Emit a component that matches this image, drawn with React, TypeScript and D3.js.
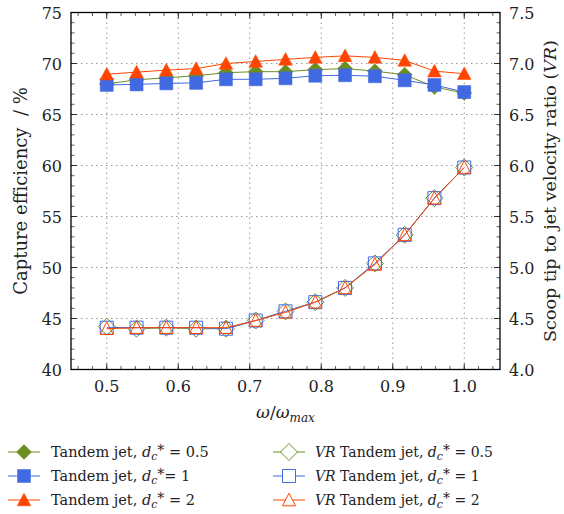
import React from "react";
import * as d3 from "d3";

const omega = [0.5, 0.5417, 0.5833, 0.625, 0.6667, 0.7083, 0.75, 0.7917, 0.8333, 0.875, 0.9167, 0.9583, 1.0];
const ceHalf = [68.0, 68.4, 68.6, 68.8, 69.1, 69.2, 69.2, 69.4, 69.5, 69.25, 68.9, 67.7, 67.1];
const ceOne = [67.9, 67.95, 68.05, 68.1, 68.45, 68.45, 68.55, 68.8, 68.85, 68.75, 68.35, 67.9, 67.2];
const ceTwo = [68.95, 69.15, 69.35, 69.5, 70.0, 70.2, 70.4, 70.6, 70.75, 70.6, 70.3, 69.25, 69.0];
const vrHalf = [4.42, 4.40, 4.41, 4.40, 4.40, 4.48, 4.57, 4.66, 4.80, 5.04, 5.32, 5.68, 5.98];
const vrOne = [4.41, 4.41, 4.41, 4.41, 4.40, 4.48, 4.57, 4.66, 4.80, 5.04, 5.32, 5.68, 5.98];
const vrTwo = [4.40, 4.41, 4.41, 4.41, 4.41, 4.48, 4.56, 4.66, 4.80, 5.03, 5.32, 5.68, 5.98];

const xTicks = [0.5, 0.6, 0.7, 0.8, 0.9, 1.0];
const yLeftTicks = [40, 45, 50, 55, 60, 65, 70, 75];
const yRightTicks = [4.0, 4.5, 5.0, 5.5, 6.0, 6.5, 7.0, 7.5];

const GREEN = "#6B8E23";
const BLUE = "#4169E1";
const RED = "#FF4500";
const FONT = "DejaVu Serif, serif";

const L = 71, R = 500, T = 12.5, B = 369.5;

type Shape = "diamond" | "square" | "triangle";

function markerPath(shape: Shape): string {
  if (shape === "diamond") return "M0,-7.5L7.5,0L0,7.5L-7.5,0Z";
  if (shape === "square") return "M-6.5,-6.5H6.5V6.5H-6.5Z";
  return "M0,-6.8L6.8,5.8L-6.8,5.8Z";
}
function markerPathOpen(shape: Shape): string {
  if (shape === "diamond") return "M0,-8.5L8.5,0L0,8.5L-8.5,0Z";
  if (shape === "square") return "M-6.5,-6.5H6.5V6.5H-6.5Z";
  return "M0,-6.8L6.5,5.8L-6.5,5.8Z";
}

export default function App() {
  const x = d3.scaleLinear().domain([0.45, 1.05]).range([L, R]);
  const yL = d3.scaleLinear().domain([40, 75]).range([B, T]);
  const yR = d3.scaleLinear().domain([4.0, 7.5]).range([B, T]);

  const xMinor = d3.range(0.46, 1.05, 0.02).map((v) => +v.toFixed(2));
  const yLMinor = d3.range(40, 75.01, 1);
  const yRMinor = d3.range(4.0, 7.51, 0.1).map((v) => +v.toFixed(1));

  const lineL = (vals: number[]) =>
    d3.line<number>().x((_, i) => x(omega[i])).y((d) => yL(d))(vals) || "";
  const lineR = (vals: number[]) =>
    d3.line<number>().x((_, i) => x(omega[i])).y((d) => yR(d))(vals) || "";

  const filledSeries: { vals: number[]; color: string; shape: Shape }[] = [
    { vals: ceHalf, color: GREEN, shape: "diamond" },
    { vals: ceOne, color: BLUE, shape: "square" },
    { vals: ceTwo, color: RED, shape: "triangle" },
  ];
  const openSeries: { vals: number[]; color: string; shape: Shape }[] = [
    { vals: vrHalf, color: GREEN, shape: "diamond" },
    { vals: vrOne, color: BLUE, shape: "square" },
    { vals: vrTwo, color: RED, shape: "triangle" },
  ];

  const legendLeft = [
    { color: GREEN, shape: "diamond" as Shape, val: "0.5", sp: true },
    { color: BLUE, shape: "square" as Shape, val: "1", sp: false },
    { color: RED, shape: "triangle" as Shape, val: "2", sp: true },
  ];
  const legendRows = [452, 476, 500];

  const dc = (val: string, sp: boolean) => (
    <>
      <tspan fontStyle="italic">d</tspan>
      <tspan fontStyle="italic" fontSize={11} dy={3}>c</tspan>
      <tspan fontSize={14} dy={-5}>{"*"}</tspan>
      <tspan dy={2}>{sp ? " = " + val : "= " + val}</tspan>
    </>
  );

  return (
    <svg width={564} height={514} style={{ position: "absolute", left: 0, top: 0, background: "#fff" }} fontFamily={FONT}>
      <rect x={0} y={0} width={564} height={514} fill="#fff" />
      {/* grid */}
      <g stroke="#999" strokeWidth={1} strokeDasharray="1.5,3.5">
        {xTicks.map((t) => (
          <line key={"gx" + t} x1={x(t)} x2={x(t)} y1={T} y2={B} />
        ))}
        {yLeftTicks.slice(1, -1).map((t) => (
          <line key={"gy" + t} x1={L} x2={R} y1={yL(t)} y2={yL(t)} />
        ))}
      </g>
      {/* minor ticks */}
      <g stroke="#333" strokeWidth={0.8}>
        {xMinor.map((t) => (
          <g key={"xm" + t}>
            <line x1={x(t)} x2={x(t)} y1={B} y2={B - 3.5} />
            <line x1={x(t)} x2={x(t)} y1={T} y2={T + 3.5} />
          </g>
        ))}
        {yLMinor.map((t) => (
          <line key={"ylm" + t} x1={L} x2={L + 3.5} y1={yL(t)} y2={yL(t)} />
        ))}
        {yRMinor.map((t) => (
          <line key={"yrm" + t} x1={R} x2={R - 3.5} y1={yR(t)} y2={yR(t)} />
        ))}
      </g>
      {/* major ticks */}
      <g stroke="#222" strokeWidth={0.9}>
        {xTicks.map((t) => (
          <g key={"xM" + t}>
            <line x1={x(t)} x2={x(t)} y1={B} y2={B - 6} />
            <line x1={x(t)} x2={x(t)} y1={T} y2={T + 6} />
          </g>
        ))}
        {yLeftTicks.map((t) => (
          <line key={"ylM" + t} x1={L} x2={L + 6} y1={yL(t)} y2={yL(t)} />
        ))}
        {yRightTicks.map((t) => (
          <line key={"yrM" + t} x1={R} x2={R - 6} y1={yR(t)} y2={yR(t)} />
        ))}
      </g>
      {/* frame */}
      <rect x={L} y={T} width={R - L} height={B - T} fill="none" stroke="#000" strokeWidth={1.3} />

      {/* filled CE series */}
      {filledSeries.map((s, si) => (
        <g key={"f" + si}>
          <path d={lineL(s.vals)} fill="none" stroke={s.color} strokeWidth={1} />
          {s.vals.map((v, i) => (
            <path key={i} d={markerPath(s.shape)} transform={`translate(${x(omega[i])},${yL(v)})`} fill={s.color} stroke={s.color} strokeWidth={0.5} />
          ))}
        </g>
      ))}
      {/* open VR series */}
      {openSeries.map((s, si) => (
        <g key={"o" + si}>
          <path d={lineR(s.vals)} fill="none" stroke={s.color} strokeWidth={1} />
          {s.vals.map((v, i) => (
            <path key={i} d={markerPathOpen(s.shape)} transform={`translate(${x(omega[i])},${yR(v)})`} fill={si === 0 ? "#fff" : "none"} stroke={s.color} strokeWidth={1} />
          ))}
        </g>
      ))}

      {/* tick labels */}
      <g fontSize={16} fill="#222">
        {xTicks.map((t) => (
          <text key={"xl" + t} x={x(t)} y={392} textAnchor="middle">{t.toFixed(1)}</text>
        ))}
        {yLeftTicks.map((t) => (
          <text key={"yll" + t} x={62} y={yL(t) + 6} textAnchor="end">{t}</text>
        ))}
        {yRightTicks.map((t) => (
          <text key={"yrl" + t} x={509} y={yR(t) + 6} textAnchor="start">{t.toFixed(1)}</text>
        ))}
      </g>

      {/* axis titles */}
      <text x={(L + R) / 2} y={418} textAnchor="middle" fontSize={17} fill="#222">
        <tspan fontStyle="italic">ω</tspan>
        <tspan>/</tspan>
        <tspan fontStyle="italic">ω</tspan>
        <tspan fontStyle="italic" fontSize={12} dy={4}>max</tspan>
      </text>
      <text transform={`translate(27,${(T + B) / 2}) rotate(-90)`} textAnchor="middle" fontSize={18} fill="#222">
        {"Capture efficiency \u00a0/ %"}
      </text>
      <text transform={`translate(556,${(T + B) / 2}) rotate(-90)`} textAnchor="middle" fontSize={17.5} fill="#222">
        <tspan>Scoop tip to jet velocity ratio (</tspan>
        <tspan fontStyle="italic">VR</tspan>
        <tspan>)</tspan>
      </text>

      {/* legend */}
      {legendLeft.map((e, i) => (
        <g key={"ll" + i}>
          <line x1={8} x2={40} y1={legendRows[i]} y2={legendRows[i]} stroke={e.color} strokeWidth={1} />
          <path d={markerPath(e.shape)} transform={`translate(24,${legendRows[i]})`} fill={e.color} stroke={e.color} strokeWidth={0.5} />
          <text x={51} y={legendRows[i] + 5} fontSize={14.5} fill="#222">
            <tspan>{"Tandem jet, "}</tspan>
            {dc(e.val, e.sp)}
          </text>
        </g>
      ))}
      {legendLeft.map((e, i) => (
        <g key={"lr" + i}>
          <line x1={273} x2={305} y1={legendRows[i]} y2={legendRows[i]} stroke={e.color} strokeWidth={1} />
          <path d={markerPathOpen(e.shape)} transform={`translate(289,${legendRows[i]})`} fill="#fff" stroke={e.color} strokeWidth={1} />
          <text x={315} y={legendRows[i] + 5} fontSize={14} fill="#222">
            <tspan fontStyle="italic">VR</tspan>
            <tspan>{" Tandem jet, "}</tspan>
            {dc(e.val, true)}
          </text>
        </g>
      ))}
    </svg>
  );
}
